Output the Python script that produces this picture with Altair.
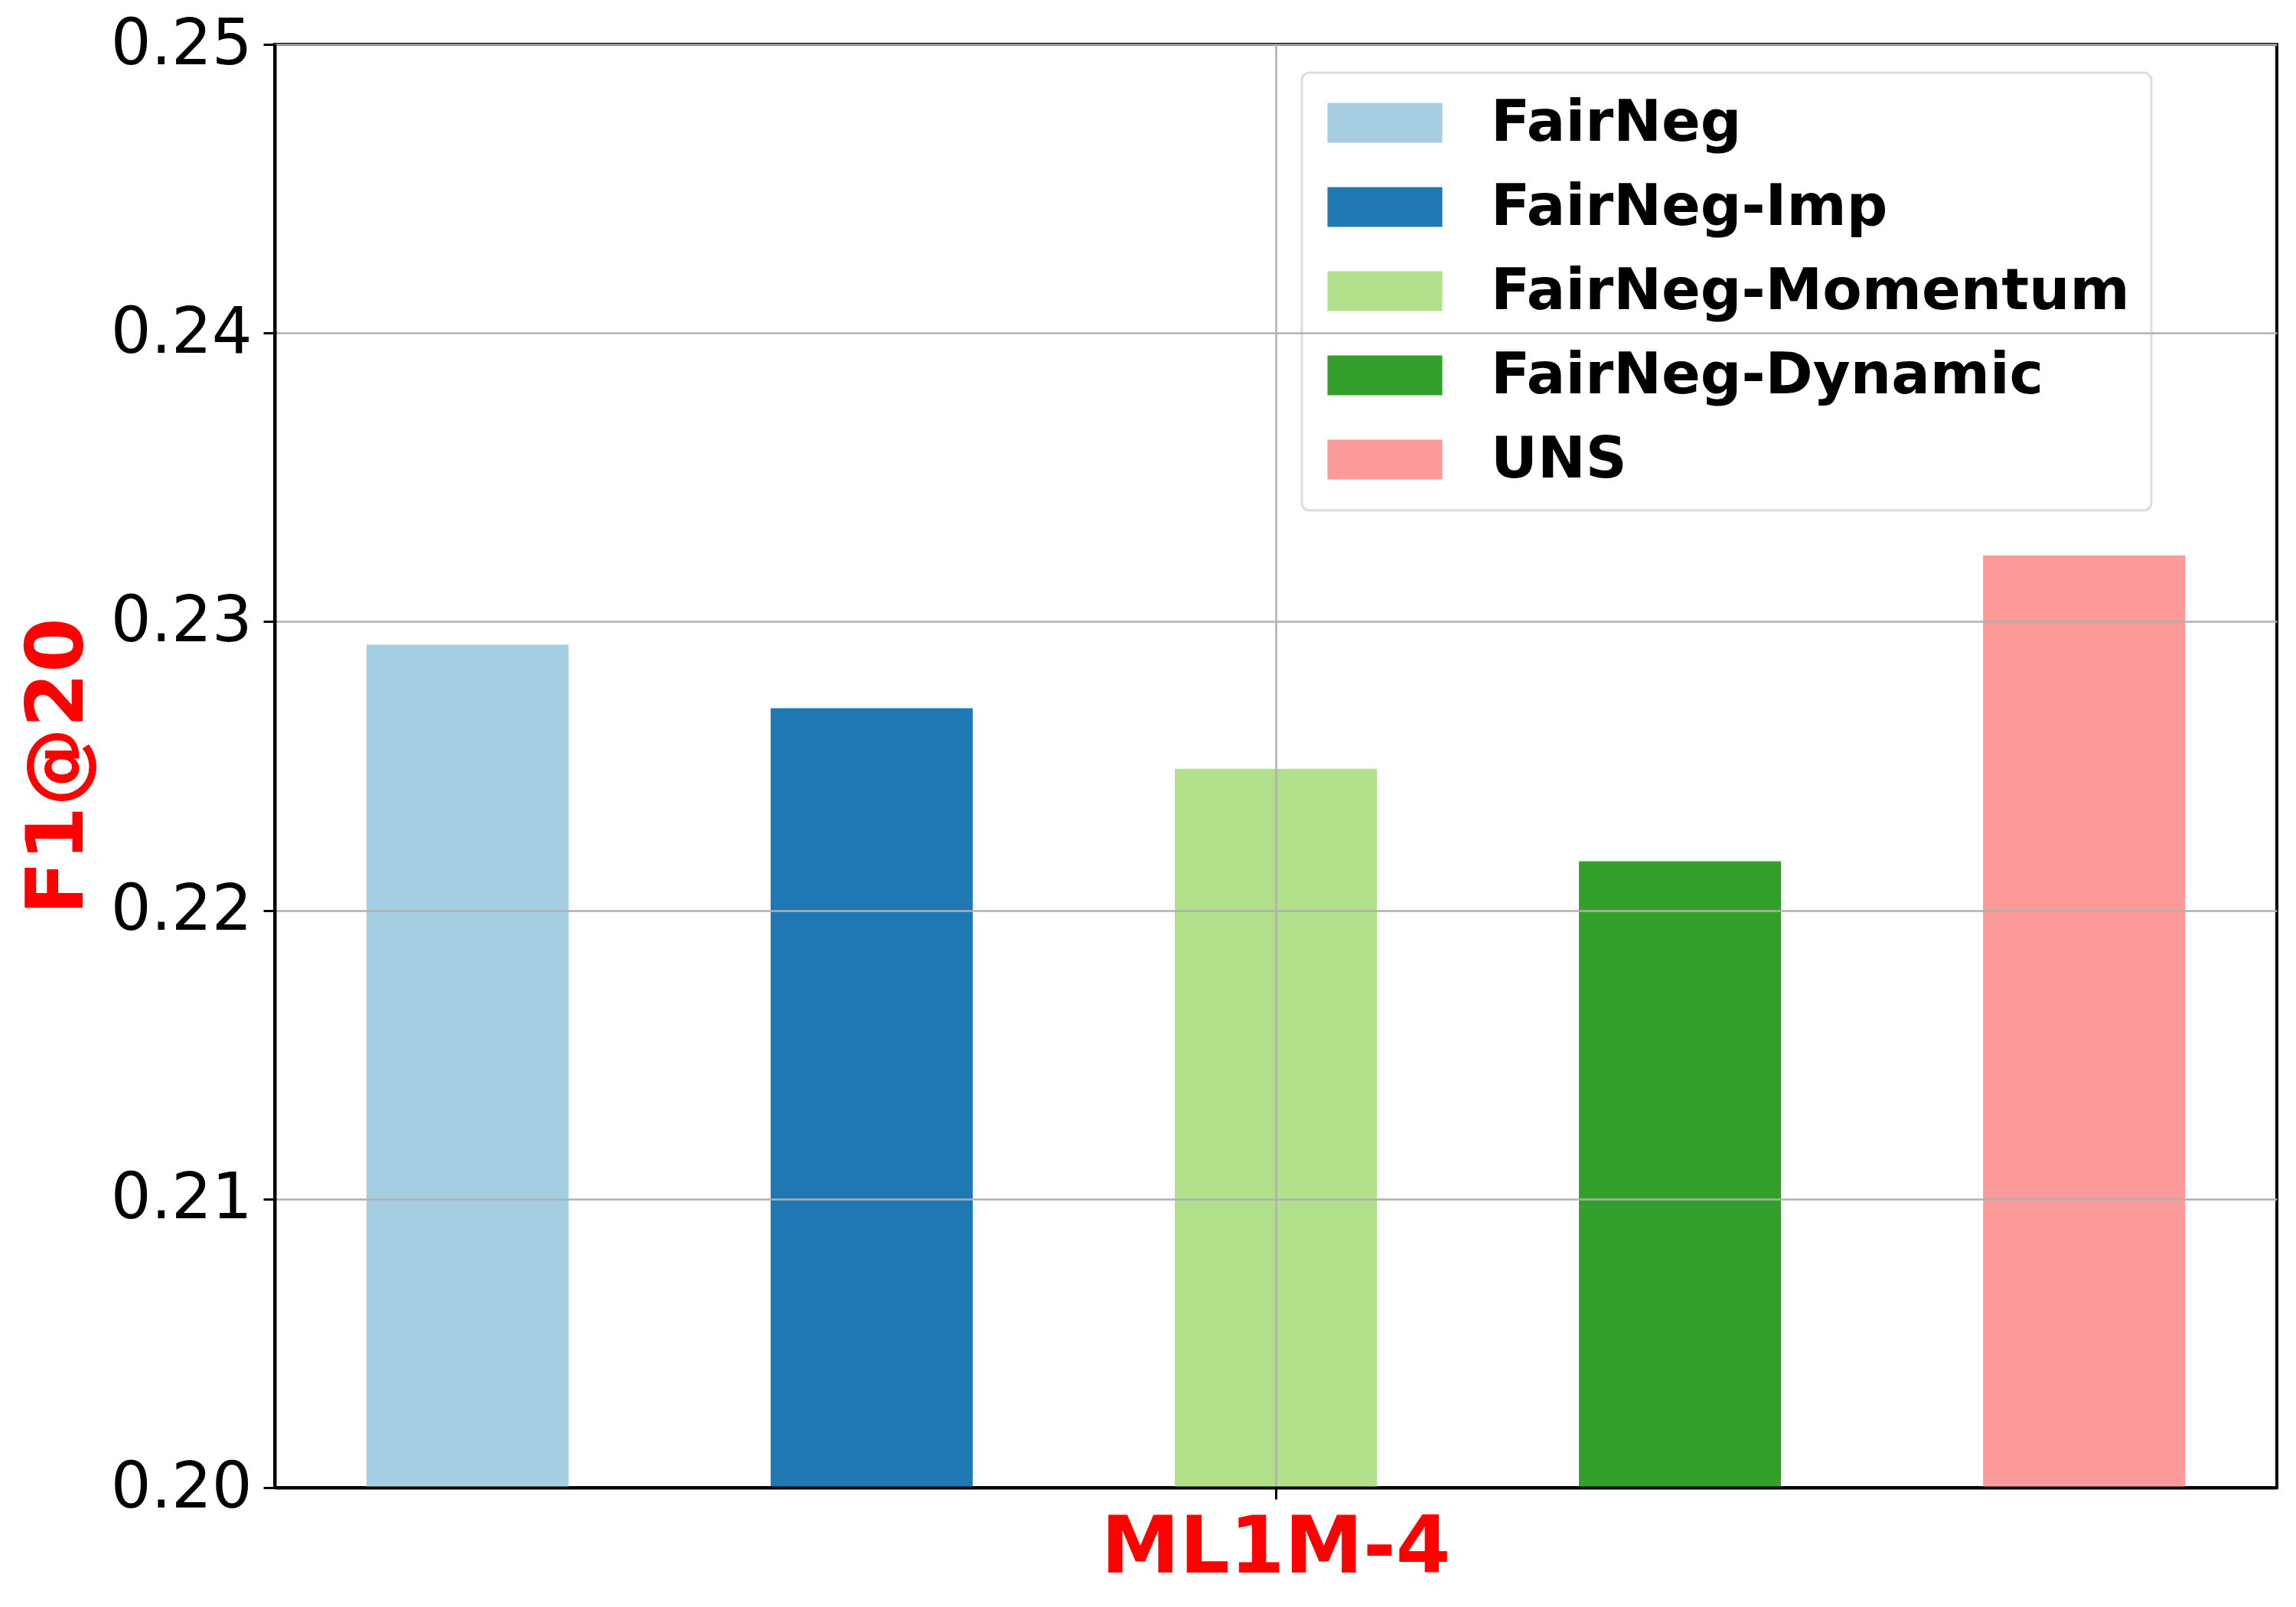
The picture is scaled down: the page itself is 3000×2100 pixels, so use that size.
import altair as alt
import pandas as pd

methods = ["FairNeg", "FairNeg-Imp", "FairNeg-Momentum", "FairNeg-Dynamic", "UNS"]
values = [0.2292, 0.2270, 0.2249, 0.2217, 0.2323]
dataset = ["ML1M-4"] * 5
colors = ["#a6cee3", "#1f78b4", "#b2df8a", "#33a02c", "#fb9a99"]
y_ticks = [0.20, 0.21, 0.22, 0.23, 0.24, 0.25]
y_min, y_max = 0.20, 0.25

df = pd.DataFrame({"dataset": dataset, "method": methods, "value": values})

FONT = "DejaVu Sans"

chart = alt.Chart(df).mark_bar().encode(
    x=alt.X(
        "dataset:N",
        scale=alt.Scale(paddingInner=0, paddingOuter=0),
        axis=alt.Axis(
            title=None,
            labelAngle=0,
            labelFont=FONT,
            labelFontSize=103,
            labelFontWeight="bold",
            labelColor="#ff0000",
            labelPadding=14,
            labelBaseline="top",
            labelLimit=2000,
            tickSize=15,
            tickWidth=3,
            tickColor="black",
            bandPosition=0.5,
            grid=True,
            gridColor="#b0b0b0",
            gridWidth=2.5,
            domain=True,
            domainColor="black",
            domainWidth=4,
            zindex=1,
        ),
    ),
    xOffset=alt.XOffset(
        "method:N",
        sort=methods,
        scale=alt.Scale(paddingInner=0.5, paddingOuter=0.227),
    ),
    y=alt.Y(
        "value:Q",
        scale=alt.Scale(domain=[y_min, y_max], zero=False, nice=False),
        axis=alt.Axis(
            title="F1@20",
            titleFont=FONT,
            titleFontSize=103,
            titleFontWeight="bold",
            titleColor="#ff0000",
            titlePadding=30,
            values=y_ticks,
            format=".2f",
            labelFont=FONT,
            labelFontSize=83,
            labelColor="black",
            labelPadding=15,
            labelLimit=2000,
            tickSize=15,
            tickWidth=3,
            tickColor="black",
            grid=True,
            gridColor="#b0b0b0",
            gridWidth=2.5,
            domain=True,
            domainColor="black",
            domainWidth=4,
            zindex=1,
        ),
    ),
    y2=alt.datum(y_min),
    color=alt.Color(
        "method:N",
        sort=methods,
        scale=alt.Scale(domain=methods, range=colors),
        legend=alt.Legend(
            title=None,
            orient="none",
            legendX=1342,
            legendY=37,
            symbolType="M-2.885,-1L2.885,-1L2.885,1L-2.885,1Z",
            symbolSize=2704,
            symbolStrokeWidth=0,
            symbolOpacity=1,
            symbolOffset=43,
            labelFont=FONT,
            labelFontSize=75,
            labelFontWeight="bold",
            labelColor="black",
            labelOffset=101,
            labelLimit=2000,
            rowPadding=34,
            padding=28,
            strokeColor="#dddddd",
            cornerRadius=10,
            fillColor="white",
        ),
    ),
).properties(
    width=2616,
    height=1886,
    autosize=alt.AutoSizeParams(type="none"),
    padding={"left": 351, "top": 50, "right": 17, "bottom": 140},
    view=alt.ViewBackground(stroke="black", strokeWidth=4),
).configure_view(
    stroke="black",
    strokeWidth=4,
).configure_legend(
    strokeWidth=3,
)

chart.save("out.html", embed_options={"renderer": "svg", "actions": False})
